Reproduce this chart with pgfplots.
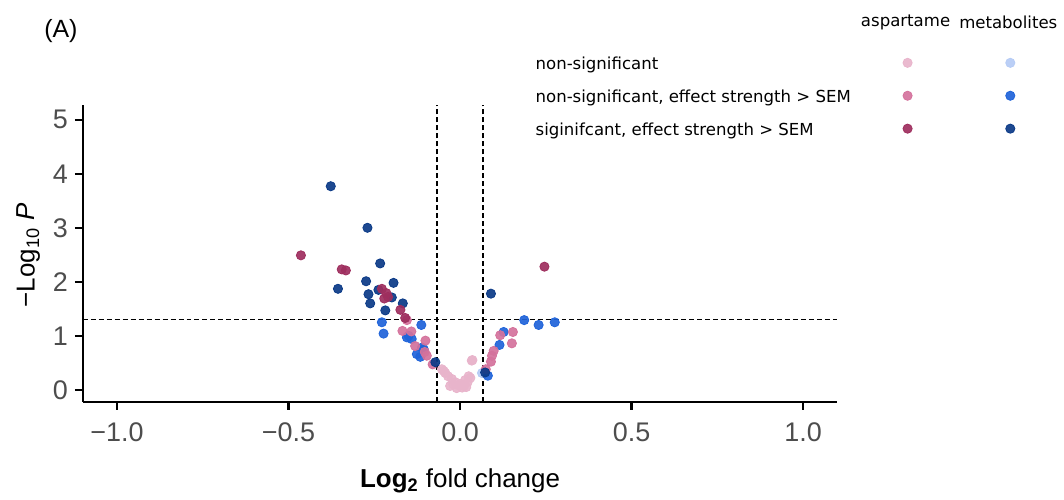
\documentclass[border=0pt]{standalone}
\usepackage{fontspec}
\setmainfont{Liberation Sans}
\newfontfamily\legfont{DejaVu Sans}
\usepackage{pgfplots}
\pgfplotsset{compat=1.18}

\definecolor{aspNS}{HTML}{E8B4CB}
\definecolor{aspSEM}{HTML}{D4729C}
\definecolor{aspSIG}{HTML}{9E2E5E}
\definecolor{metNS}{HTML}{B5CBF5}
\definecolor{metSEM}{HTML}{1F63D9}
\definecolor{metSIG}{HTML}{0B3A87}
\definecolor{ticklab}{HTML}{4D4D4D}

\pgfplotsset{
  dot/.style={only marks, mark=*, mark size=2.3pt, color=#1, mark options={draw=none, fill=#1, fill opacity=0.92}},
}

\begin{document}
\begin{tikzpicture}
\path (0pt,0pt) rectangle (532pt,247pt);

% main volcano plot
\begin{axis}[
  at={(41.5pt,45.65pt)}, anchor=south west,
  scale only axis, width=378.3pt, height=148.85pt,
  xmin=-1.1, xmax=1.1, ymin=-0.22, ymax=5.28,
  axis x line=bottom, axis y line=left,
  axis line style={-, line width=1.1pt},
  tick align=outside, major tick length=4pt,
  tick style={black, line width=1.1pt},
  xtick={-1,-0.5,0,0.5,1},
  xticklabels={−1.0,−0.5,0.0,0.5,1.0},
  ytick={0,1,2,3,4,5},
  yticklabels={0,1,2,3,4,5},
  ticklabel style={font=\fontsize{13.5}{15}\selectfont, text=ticklab},
  xticklabel style={yshift=-3pt},
  xlabel={\textbf{Log\textsubscript{2}} fold change},
  ylabel={−Log\textsubscript{10} \textit{P}},
  label style={font=\fontsize{13}{15}\selectfont},
  xlabel style={at={(rel axis cs:0.5,-0.266)}, anchor=center},
  ylabel style={at={(rel axis cs:-0.072,0.493)}, anchor=center},
  clip=false,
]
\draw[black, line width=0.6pt, dash pattern=on 2.5pt off 1.5pt] (axis cs:-0.067,-0.22) -- (axis cs:-0.067,5.28);
\draw[black, line width=0.6pt, dash pattern=on 2.5pt off 1.5pt] (axis cs:0.067,-0.22) -- (axis cs:0.067,5.28);
\draw[black, line width=0.6pt, dash pattern=on 2.5pt off 1.5pt] (axis cs:-1.1,1.301) -- (axis cs:1.1,1.301);

% aspartame, non-significant
\addplot[dot=aspNS] coordinates {
(-0.053,0.38) (-0.043,0.31) (-0.035,0.25) (-0.024,0.20) (-0.014,0.14)
(-0.004,0.08) (0.001,0.11) (0.006,0.04) (0.012,0.07) (0.015,0.18)
(0.022,0.14) (0.025,0.25) (0.030,0.22) (0.036,0.55) (-0.029,0.07)
(-0.010,0.03) (-0.048,0.35) (0.034,0.54) (-0.020,0.10) (0.018,0.05)
};
% metabolites, non-significant
\addplot[dot=metNS] coordinates {(0.064,0.31)};
% metabolites, non-significant, effect > SEM
\addplot[dot=metSEM] coordinates {
(-0.228,1.25) (-0.223,1.04) (-0.113,1.20) (-0.150,1.00) (-0.141,0.94)
(-0.155,0.97) (-0.111,0.78) (-0.106,0.75) (-0.126,0.66) (-0.116,0.61)
(0.187,1.29) (0.229,1.20) (0.276,1.25) (0.127,1.07) (0.115,0.83) (0.081,0.26)
};
% aspartame, non-significant, effect > SEM
\addplot[dot=aspSEM] coordinates {
(-0.155,1.29) (-0.168,1.09) (-0.142,1.08) (-0.101,0.91) (-0.131,0.81)
(-0.097,0.63) (-0.103,0.70) (-0.080,0.47)
(0.117,1.01) (0.154,1.07) (0.151,0.86) (0.098,0.72) (0.093,0.63)
(0.090,0.52) (0.075,0.38)
};
% metabolites, significant
\addplot[dot=metSIG] coordinates {
(-0.377,3.77) (-0.270,3.00) (-0.233,2.34) (-0.274,2.01) (-0.356,1.87)
(-0.194,1.98) (-0.267,1.77) (-0.262,1.60) (-0.238,1.85) (-0.199,1.71)
(-0.167,1.60) (-0.218,1.47) (0.090,1.78) (-0.072,0.51) (0.073,0.32)
};
% aspartame, significant
\addplot[dot=aspSIG] coordinates {
(-0.464,2.49) (-0.345,2.23) (-0.333,2.21) (-0.228,1.87) (-0.215,1.79)
(-0.221,1.69) (-0.210,1.72) (-0.174,1.48) (-0.160,1.33) (0.246,2.28)
};
\end{axis}

% overlay in pixel units for panel tag and legend
\begin{axis}[
  at={(0pt,0pt)}, anchor=south west,
  scale only axis, width=532pt, height=247pt,
  xmin=0, xmax=1064, ymin=0, ymax=494, y dir=reverse,
  hide axis, clip=false,
]
\node[anchor=west, inner sep=0pt, font=\fontsize{12.5}{15}\selectfont] at (axis cs:44,31) {(A)};
\node[anchor=center, font=\legfont\fontsize{8.3}{10}\selectfont] at (axis cs:908,22) {aspartame};
\node[anchor=center, font=\legfont\fontsize{8.3}{10}\selectfont] at (axis cs:1011,22) {metabolites};
\node[anchor=west, font=\legfont\fontsize{8.3}{10}\selectfont] at (axis cs:530,65) {non-significant};
\node[anchor=west, font=\legfont\fontsize{8.3}{10}\selectfont] at (axis cs:530,98) {non-significant, effect strength > SEM};
\node[anchor=west, font=\legfont\fontsize{8.3}{10}\selectfont] at (axis cs:530,131) {siginifcant, effect strength > SEM};
\addplot[dot=aspNS] coordinates {(910,63)};
\addplot[dot=aspSEM] coordinates {(910,96)};
\addplot[dot=aspSIG] coordinates {(910,129)};
\addplot[dot=metNS] coordinates {(1013,63)};
\addplot[dot=metSEM] coordinates {(1013,96)};
\addplot[dot=metSIG] coordinates {(1013,129)};
\end{axis}
\end{tikzpicture}
\end{document}
